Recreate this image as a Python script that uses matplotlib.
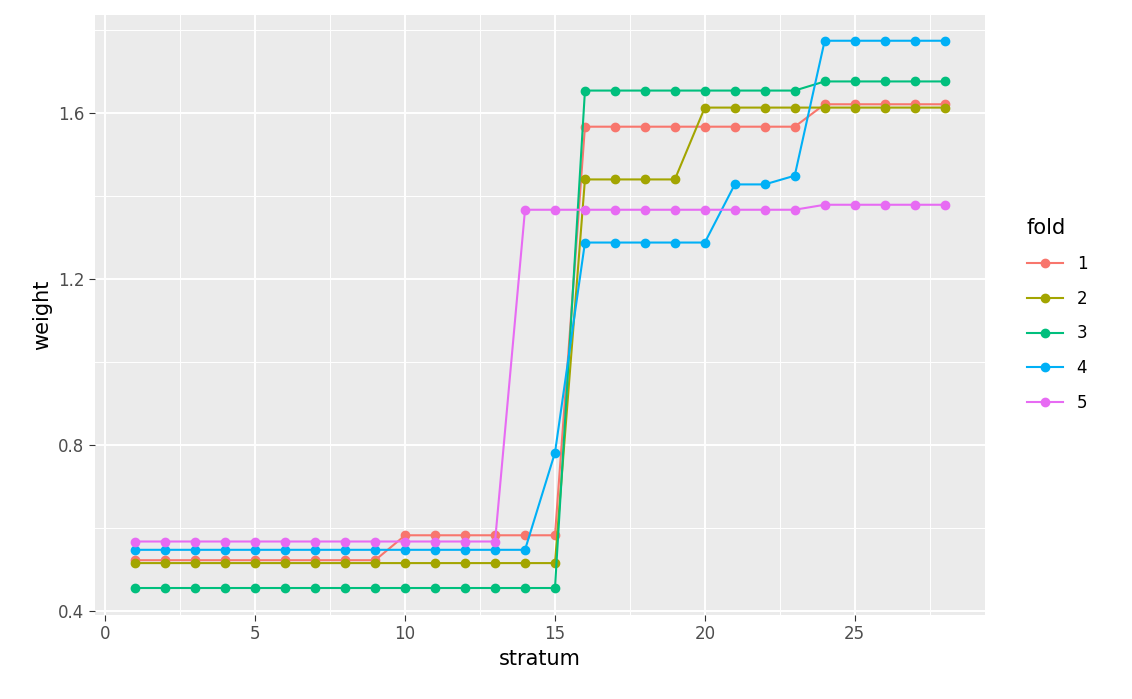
import matplotlib
matplotlib.use("Agg")
import matplotlib.pyplot as plt

stratum = list(range(1, 29))
fold1 = [0.522]*9 + [0.582]*6 + [1.566]*8 + [1.62]*5
fold2 = [0.515]*15 + [1.439]*4 + [1.612]*9
fold3 = [0.455]*15 + [1.653]*8 + [1.675]*5
fold4 = [0.547]*14 + [0.781] + [1.287]*5 + [1.427]*2 + [1.448] + [1.773]*5
fold5 = [0.567]*13 + [1.366]*10 + [1.378]*5
folds = ["1", "2", "3", "4", "5"]
colors = ["#F8766D", "#A3A500", "#00BF7D", "#00B0F6", "#E76BF3"]

fig = plt.figure(figsize=(11.32, 6.99), dpi=100)
ax = fig.add_axes([95/1132, 1-615/699, 890/1132, 600/699])
ax.set_facecolor("#EBEBEB")
for s in ax.spines.values():
    s.set_visible(False)
for lab, ys, c in zip(folds, [fold1, fold2, fold3, fold4, fold5], colors):
    ax.plot(stratum, ys, color=c, lw=1.5, marker="o", ms=6, label=lab, zorder=3)
ax.set_xlim(-0.35, 29.35)
ax.set_ylim(0.39, 1.835)
ax.set_xticks([0, 5, 10, 15, 20, 25])
ax.set_xticks([2.5, 7.5, 12.5, 17.5, 22.5, 27.5], minor=True)
ax.set_yticks([0.4, 0.8, 1.2, 1.6])
ax.set_yticklabels(["0.4", "0.8", "1.2", "1.6"])
ax.set_yticks([0.6, 1.0, 1.4, 1.8], minor=True)
ax.grid(which="major", color="white", lw=1.4)
ax.grid(which="minor", color="white", lw=0.7)
ax.set_axisbelow(True)
ax.tick_params(which="major", length=4, color="#333333", labelsize=12, labelcolor="#4D4D4D")
ax.tick_params(which="minor", length=0)
ax.set_xlabel("stratum", fontsize=15)
ax.set_ylabel("weight", fontsize=15)
leg = ax.legend(title="fold", loc="center left", bbox_to_anchor=(1.03, 0.5), frameon=False,
                fontsize=12, title_fontsize=15, handlelength=2.2, labelspacing=1.0)
leg._legend_box.align = "left"
fig.savefig("out.png")
